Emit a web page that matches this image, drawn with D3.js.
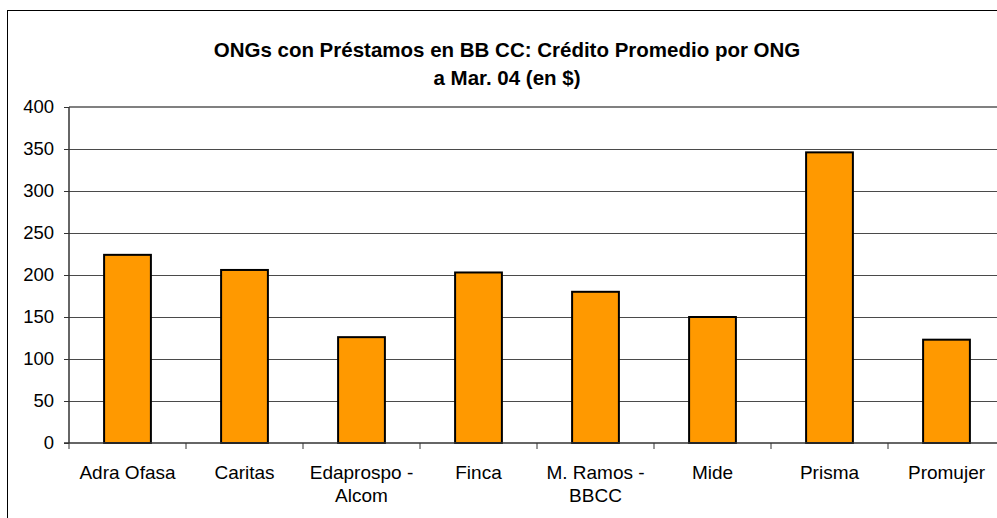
<!DOCTYPE html>
<html>
<head>
<meta charset="utf-8">
<script src="https://cdn.jsdelivr.net/npm/d3@7"></script>
<style>
  html, body { margin: 0; padding: 0; background: #fff; }
  svg { display: block; font-family: "Liberation Sans", Arial, sans-serif; }
</style>
</head>
<body>
<svg id="chart" width="997" height="518"></svg>
<script>
const categories = ["Adra Ofasa", "Caritas", "Edaprospo - Alcom", "Finca", "M. Ramos - BBCC", "Mide", "Prisma", "Promujer"];
const values = [224, 206, 126, 203, 180, 150, 346, 123];
const yTicks = [0, 50, 100, 150, 200, 250, 300, 350, 400];
const titleLines = ["ONGs con Préstamos en BB CC: Crédito Promedio por ONG", "a Mar. 04 (en $)"];

const svg = d3.select("#chart");
const W = 997, H = 518;

// outer frame
svg.append("rect").attr("x", 7.5).attr("y", 10.5).attr("width", 1000).attr("height", 520)
  .attr("fill", "#fff").attr("stroke", "#000").attr("stroke-width", 1);

const plot = { left: 69, right: 1005, top: 107, bottom: 443 };

const x = d3.scaleBand().domain(categories).range([plot.left, plot.right]).padding(0);
const y = d3.scaleLinear().domain([0, 400]).range([plot.bottom, plot.top]);

// gridlines
svg.append("g").selectAll("line").data(yTicks.filter(d => d > 0 && d < 400)).join("line")
  .attr("x1", plot.left).attr("x2", plot.right + 5)
  .attr("y1", d => Math.round(y(d)) + 0.5).attr("y2", d => Math.round(y(d)) + 0.5)
  .attr("stroke", "#4a4a4a").attr("stroke-width", 1);

// top plot border
svg.append("line").attr("x1", plot.left).attr("x2", plot.right + 5)
  .attr("y1", y(400)).attr("y2", y(400))
  .attr("stroke", "#808080").attr("stroke-width", 2);

// bars
const bw = x.bandwidth() * 0.4;
svg.append("g").selectAll("rect").data(values).join("rect")
  .attr("x", (d, i) => x(categories[i]) + x.bandwidth() * 0.3)
  .attr("y", d => y(d))
  .attr("width", bw)
  .attr("height", d => y(0) - y(d))
  .attr("fill", "#FF9900").attr("stroke", "#000").attr("stroke-width", 2);

// y axis
const yAxis = d3.axisLeft(y).tickValues(yTicks).tickSize(5).tickPadding(10).tickFormat(d3.format("d"));
const gy = svg.append("g").attr("transform", `translate(${plot.left},0)`).call(yAxis);
gy.select(".domain").attr("stroke", "#333").attr("stroke-width", 1.5).attr("d", `M0,${plot.top}V${plot.bottom}`);
gy.selectAll(".tick line").attr("stroke", "#333");
gy.selectAll(".tick text").attr("font-size", 18.5).attr("fill", "#000")
  .attr("font-family", "Liberation Sans, Arial, sans-serif");

// x axis line
svg.append("line").attr("x1", plot.left - 5).attr("x2", plot.right + 5)
  .attr("y1", plot.bottom).attr("y2", plot.bottom)
  .attr("stroke", "#333").attr("stroke-width", 1.5);

// x ticks at band boundaries
const bounds = categories.map(c => x(c)).concat([plot.right]);
svg.append("g").selectAll("line").data(bounds).join("line")
  .attr("x1", d => d).attr("x2", d => d)
  .attr("y1", plot.bottom).attr("y2", plot.bottom + 6)
  .attr("stroke", "#333").attr("stroke-width", 1);

// x labels with wrapping
const lab = svg.append("g").attr("font-size", 19).attr("text-anchor", "middle").attr("fill", "#000");
categories.forEach(c => {
  const cx = x(c) + x.bandwidth() / 2;
  const t = lab.append("text").attr("x", cx).attr("y", 479);
  const words = c.split(" ");
  let line = [];
  let tspan = t.append("tspan").attr("x", cx).attr("dy", 0);
  let lineNo = 0;
  words.forEach(w => {
    line.push(w);
    tspan.text(line.join(" "));
    if (tspan.node().getComputedTextLength() > 112 && line.length > 1) {
      line.pop();
      tspan.text(line.join(" "));
      line = [w];
      lineNo++;
      tspan = t.append("tspan").attr("x", cx).attr("dy", 23).text(w);
    }
  });
});

// title
const tg = svg.append("g").attr("font-size", 20.5).attr("font-weight", "bold").attr("text-anchor", "middle").attr("fill", "#000");
tg.append("text").attr("x", 507).attr("y", 57).text(titleLines[0]);
tg.append("text").attr("x", 507).attr("y", 85).text(titleLines[1]);
</script>
</body>
</html>
